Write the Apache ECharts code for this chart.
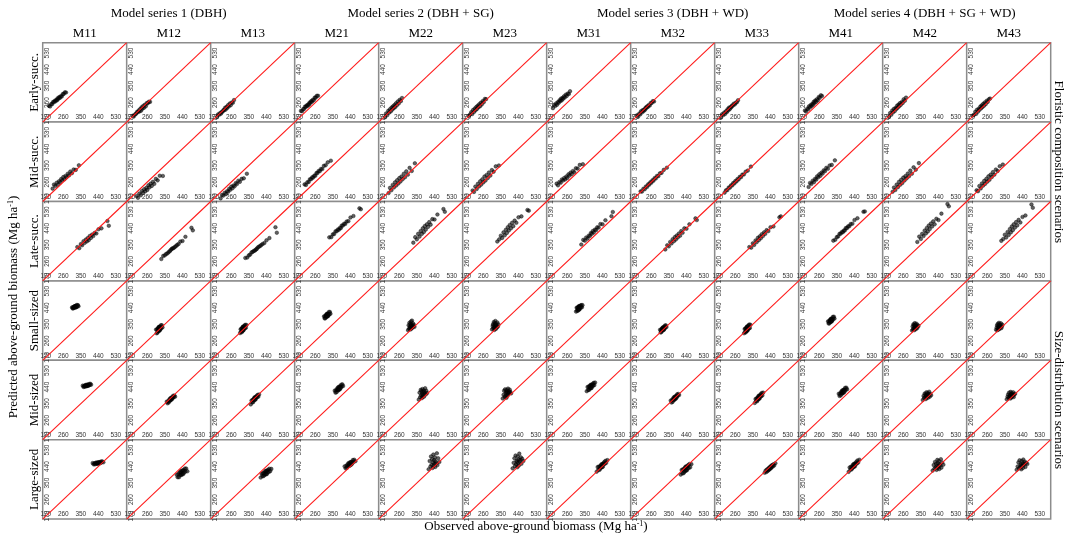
<!DOCTYPE html>
<html>
<head>
<meta charset="utf-8">
<script src="https://cdn.jsdelivr.net/npm/echarts@6/dist/echarts.min.js"></script>
<style>
html,body{margin:0;padding:0;background:#fff;}
#chart{width:1065px;height:534px;}
</style>
</head>
<body>
<div id="chart"></div>
<script>
// ---------- data ----------
const AXIS_RANGE = [154, 586];
const TICKS = [170, 260, 350, 440, 530];
const MODELS = ['M11','M12','M13','M21','M22','M23','M31','M32','M33','M41','M42','M43'];
const SERIES_TITLES = ['Model series 1 (DBH)','Model series 2 (DBH + SG)','Model series 3 (DBH + WD)','Model series 4 (DBH + SG + WD)'];
const SCENARIOS = ['Early-succ.','Mid-succ.','Late-succ.','Small-sized','Mid-sized','Large-sized'];
const GROUP_LABELS = ['Floristic composition scenarios','Size-distribution scenarios'];

const obsEarly = [186,192,198,203,207,212,216,220,224,228,231,235,239,243,247,252,257,262,268,274];
const predEarly = [
  [243,239,252,252,263,263,270,267,275,273,284,281,290,286,295,293,306,307,316,315],
  [189,187,197,200,209,209,218,212,226,216,235,227,242,232,248,240,257,256,265,264],
  [181,196,194,204,200,210,212,220,220,232,222,236,231,246,239,255,246,261,259,274],
  [215,213,225,226,238,237,245,242,251,249,261,259,268,265,275,273,287,287,297,297],
  [180,201,192,215,205,224,212,233,222,240,230,247,236,256,245,266,255,275,268,285],
  [188,195,208,198,219,209,228,218,236,226,243,235,251,240,259,250,268,262,280,279],
  [230,248,242,256,248,263,259,273,269,282,272,285,281,294,288,303,296,309,307,322],
  [191,183,200,196,213,207,219,213,223,221,233,231,240,237,247,244,258,258,268,266],
  [178,197,192,206,198,213,208,224,218,233,224,235,234,244,243,254,250,259,262,273],
  [217,211,227,224,240,235,247,241,253,248,264,258,271,264,278,272,290,286,300,296],
  [182,203,194,217,207,226,214,231,225,243,232,249,240,257,248,263,258,278,270,287],
  [190,194,210,199,221,211,227,221,238,229,245,236,253,243,261,252,270,264,278,282]
];

const obsMid = [205,212,219,226,232,238,244,249,255,260,266,271,277,283,289,296,304,313,324,340];
const predMid = [
  [224,246,238,256,245,264,258,276,270,287,275,293,286,305,296,317,308,328,326,351],
  [184,174,197,188,211,201,221,209,228,217,242,231,251,239,261,250,277,269,294,293],
  [171,190,186,201,194,210,207,223,218,235,226,241,237,254,249,267,261,277,280,305],
  [247,244,259,260,275,275,286,284,295,294,309,309,320,319,331,331,348,351,367,376],
  [200,228,215,244,230,258,241,270,252,281,263,290,275,305,286,318,300,337,320,362],
  [214,206,235,222,250,236,264,246,275,258,290,268,298,282,312,295,325,316,345,350],
  [251,242,260,256,274,268,282,274,290,282,302,295,311,303,320,313,335,333,353,357],
  [209,208,223,221,236,233,248,245,259,256,270,267,281,279,293,292,307,310,326,338],
  [202,215,216,230,229,242,241,254,252,265,263,276,274,288,286,300,301,316,322,344],
  [233,255,249,267,259,277,273,291,286,302,294,311,306,324,319,337,332,350,353,378],
  [207,230,217,246,232,261,245,272,255,284,268,292,280,306,291,322,305,340,327,363],
  [215,210,238,225,252,240,266,250,277,262,291,272,300,287,314,300,328,320,346,355]
];

const obsLate = [332,342,350,357,364,370,376,381,386,391,396,402,408,414,421,430,441,456,487,494];
const predLate = [
  [338,332,354,348,370,361,379,369,387,376,398,388,406,398,415,412,435,440,480,454],
  [273,290,293,301,304,311,316,323,328,332,333,339,344,350,355,368,371,394,443,429],
  [279,281,293,297,309,312,317,319,324,328,336,340,344,349,355,360,375,387,446,416],
  [391,392,407,409,424,424,434,432,442,441,455,455,465,464,477,479,499,507,549,544],
  [362,392,380,410,395,425,410,440,420,452,433,462,448,474,460,490,488,515,545,530],
  [368,380,400,388,418,402,432,415,446,428,458,440,470,452,482,470,500,505,540,536],
  [352,377,373,390,384,400,398,414,410,425,417,433,430,446,444,463,462,484,506,529],
  [325,348,342,366,358,381,370,392,379,401,390,412,400,425,416,440,438,462,494,485],
  [338,335,358,350,374,365,388,376,396,386,408,398,418,410,430,425,446,450,500,505],
  [373,378,392,396,410,411,420,419,428,428,441,441,451,451,463,465,485,495,530,532],
  [366,395,382,410,398,428,412,442,423,455,436,466,450,478,462,492,485,520,572,560],
  [372,382,405,390,420,404,436,418,450,430,462,444,474,456,486,472,502,510,570,552]
];

const obsSmall = [305,308,310,312,314,315,317,318,319,320,321,322,323,325,326,328,330,332,335,338];
const predSmall = [
  [442,436,441,437,445,442,448,442,445,441,449,444,449,442,451,444,455,447,454,448],
  [321,301,321,304,327,315,333,314,328,313,336,320,336,318,336,324,345,330,345,333],
  [302,323,309,326,307,326,314,333,319,337,317,335,318,338,328,343,329,347,331,346],
  [393,382,392,383,399,393,404,392,399,391,407,397,407,394,407,399,417,405,417,407],
  [318,345,325,358,330,338,352,322,341,365,334,348,327,370,343,332,355,340,347,336],
  [322,340,350,328,362,335,319,346,356,330,343,368,337,325,352,344,333,360,338,349],
  [419,440,425,441,423,440,429,445,435,449,431,446,431,448,441,452,442,454,442,454],
  [320,305,319,308,325,318,331,317,325,317,333,323,333,320,334,326,343,333,344,335],
  [301,324,308,327,306,327,313,333,318,338,316,335,316,339,326,344,327,349,330,347],
  [366,354,365,355,372,365,377,364,372,363,380,369,380,367,380,373,390,380,391,381],
  [316,338,322,350,328,344,318,334,356,326,342,331,348,324,339,353,336,330,345,340],
  [320,332,345,318,352,327,340,336,322,358,330,344,326,349,334,341,355,329,338,347]
];

const obsMidSized = [360,364,367,370,372,374,376,378,379,380,382,383,385,387,389,391,393,396,399,403];
const predMidSized = [
  [448,441,446,442,450,446,452,446,449,445,453,448,453,447,453,449,457,452,458,453],
  [361,352,362,356,370,367,377,368,372,368,382,376,383,374,384,381,393,387,394,388],
  [346,367,357,371,358,373,367,380,373,385,372,383,373,387,384,393,386,398,388,400],
  [421,410,423,413,431,424,438,424,433,423,442,430,443,429,443,436,453,443,455,446],
  [372,410,385,425,395,418,380,402,430,390,412,398,422,388,415,405,434,400,420,408],
  [378,398,420,386,428,392,408,415,382,424,400,412,394,432,404,418,410,426,414,406],
  [418,441,425,443,425,443,432,449,437,453,435,450,435,453,446,458,448,463,451,465],
  [367,356,370,360,378,371,385,372,380,372,389,379,390,378,391,385,401,393,403,397],
  [354,375,364,379,363,381,371,388,378,393,377,391,378,396,389,402,391,408,395,410],
  [404,392,405,395,413,406,420,406,415,406,424,413,425,411,426,418,436,426,437,428],
  [370,392,380,405,386,400,375,395,412,384,398,390,408,382,402,394,415,388,404,396],
  [374,388,400,380,410,386,396,392,378,414,390,402,384,406,398,392,412,386,400,404]
];

const obsLarge = [411,416,420,423,426,429,431,433,435,437,439,441,443,445,447,450,453,456,460,466];
const predLarge = [
  [459,452,457,452,460,456,462,456,459,455,463,458,463,457,463,459,467,462,468,463],
  [395,382,399,382,407,395,414,394,409,395,418,401,419,399,419,407,429,413,429,414],
  [380,401,388,404,388,405,394,412,400,417,398,415,399,418,409,423,410,428,415,427],
  [441,430,444,433,452,444,459,444,454,444,463,451,464,450,464,457,475,465,477,469],
  [425,470,440,495,450,480,432,462,505,445,475,455,490,438,468,458,512,448,485,465],
  [430,460,485,442,500,452,472,465,436,495,458,478,446,510,468,476,490,455,482,470],
  [412,437,422,440,422,441,430,448,437,453,437,452,439,457,451,464,455,471,460,475],
  [396,421,403,425,404,426,412,434,418,440,418,438,420,443,430,448,432,454,436,453],
  [406,418,410,424,416,428,420,432,424,436,428,440,431,444,436,448,440,452,446,458],
  [411,435,423,439,424,441,432,449,439,454,439,453,441,458,452,465,456,473,462,477],
  [418,448,428,465,436,455,422,442,476,432,458,440,470,426,452,445,480,434,462,450],
  [422,440,462,430,474,436,452,446,425,470,444,458,432,478,448,456,466,438,460,454]
];

const ROW_OBS = [obsEarly, obsMid, obsLate, obsSmall, obsMidSized, obsLarge];
const ROW_PRED = [predEarly, predMid, predLate, predSmall, predMidSized, predLarge];

// ---------- layout ----------
const GRID_LEFT = 42.7, GRID_TOP = 42.7, CELL_W = 84, CELL_H = 79.4;
const SERIF = '"Liberation Serif","Times New Roman",serif';
const SANS = '"Liberation Sans",Arial,sans-serif';

const grids = [], xAxes = [], yAxes = [], series = [];
for (let r = 0; r < 6; r++) {
  for (let c = 0; c < 12; c++) {
    const i = r * 12 + c;
    grids.push({
      left: GRID_LEFT + c * CELL_W, top: GRID_TOP + r * CELL_H,
      width: CELL_W, height: CELL_H,
      show: true, borderColor: '#8c8c8c', borderWidth: 1.5, backgroundColor: '#fff',
      containLabel: false, outerBoundsMode: 'none'
    });
    const lab = { inside: true, customValues: TICKS, fontSize: 6.5, color: '#333', fontFamily: SANS, margin: 1 };
    xAxes.push({ gridIndex: i, type: 'value', min: AXIS_RANGE[0], max: AXIS_RANGE[1],
      axisLine: { show: false }, axisTick: { show: false }, splitLine: { show: false },
      axisLabel: Object.assign({}, lab) });
    yAxes.push({ gridIndex: i, type: 'value', min: AXIS_RANGE[0], max: AXIS_RANGE[1],
      axisLine: { show: false }, axisTick: { show: false }, splitLine: { show: false },
      axisLabel: Object.assign({}, lab, { rotate: 90 }) });
    const obs = ROW_OBS[r], pred = ROW_PRED[r][c];
    series.push({
      type: 'scatter', xAxisIndex: i, yAxisIndex: i,
      data: obs.map((x, k) => [x, pred[k]]),
      symbol: 'circle', symbolSize: 3.6, silent: true, z: 2,
      itemStyle: { color: 'rgba(10,10,10,0.8)', borderColor: '#000', borderWidth: 0.5 }
    });
    series.push({
      type: 'line', xAxisIndex: i, yAxisIndex: i,
      data: [[AXIS_RANGE[0], AXIS_RANGE[0]], [AXIS_RANGE[1], AXIS_RANGE[1]]],
      symbol: 'none', silent: true, z: 3,
      lineStyle: { color: '#ff1a1a', width: 1.1 }
    });
  }
}

const graphics = [];
SERIES_TITLES.forEach((t, s) => {
  graphics.push({ type: 'text', x: GRID_LEFT + (3 * s + 1.5) * CELL_W, y: 14,
    style: { text: t, font: '13px ' + SERIF, fill: '#000', align: 'center', verticalAlign: 'middle' } });
});
MODELS.forEach((m, c) => {
  graphics.push({ type: 'text', x: GRID_LEFT + (c + 0.5) * CELL_W, y: 34,
    style: { text: m, font: '13px ' + SERIF, fill: '#000', align: 'center', verticalAlign: 'middle' } });
});
SCENARIOS.forEach((s, r) => {
  graphics.push({ type: 'text', x: 35, y: GRID_TOP + (r + 0.5) * CELL_H, rotation: Math.PI / 2,
    style: { text: s, font: '13px ' + SERIF, fill: '#000', align: 'center', verticalAlign: 'middle' } });
});
GROUP_LABELS.forEach((g, k) => {
  graphics.push({ type: 'text', x: 1058, y: GRID_TOP + (3 * k + 1.5) * CELL_H, rotation: -Math.PI / 2,
    style: { text: g, font: '13px ' + SERIF, fill: '#000', align: 'center', verticalAlign: 'middle' } });
});
const richStyle = { a: { font: '13px ' + SERIF, fill: '#000' }, s: { font: '8px ' + SERIF, fill: '#000', padding: [0, 0, 7, 0] } };
graphics.push({ type: 'text', x: 14, y: 307, rotation: Math.PI / 2,
  style: { text: '{a|Predicted above-ground biomass (Mg ha}{s|-1}{a|)}', rich: richStyle, align: 'center', verticalAlign: 'middle' } });
graphics.push({ type: 'text', x: 536, y: 527,
  style: { text: '{a|Observed above-ground biomass (Mg ha}{s|-1}{a|)}', rich: richStyle, align: 'center', verticalAlign: 'middle' } });

const chart = echarts.init(document.getElementById('chart'), null, { renderer: 'canvas' });
chart.setOption({
  animation: false,
  backgroundColor: '#fff',
  grid: grids, xAxis: xAxes, yAxis: yAxes, series: series,
  graphic: graphics
});
</script>
</body>
</html>
